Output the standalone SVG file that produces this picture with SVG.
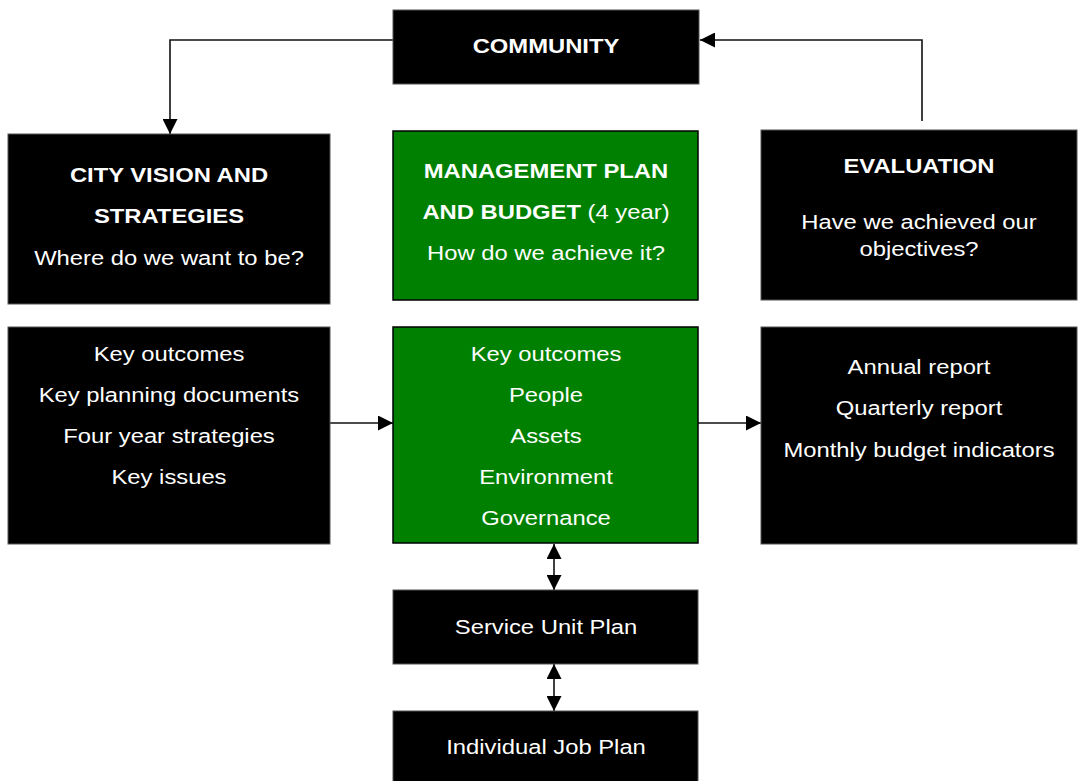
<svg xmlns="http://www.w3.org/2000/svg" width="1078" height="781" viewBox="0 0 1078 781">
  <style>
    .dark { fill: #000; stroke: #555; stroke-width: 1; }
    .green { fill: #008000; stroke: #000; stroke-width: 1.5; }
    text { font-family: "Liberation Sans", Arial, sans-serif; font-size: 20px; fill: #fff; text-anchor: middle; }
    .b { font-weight: bold; }
    .conn { fill: none; stroke: #111; stroke-width: 1.6; }
  </style>
  <defs>
    <marker id="arrow" viewBox="0 0 10 10" refX="10" refY="5" markerWidth="9" markerHeight="9" markerUnits="userSpaceOnUse" orient="auto-start-reverse">
      <path d="M0,0 L10,5 L0,10 z" fill="#000"/>
    </marker>
    <marker id="arrowL" viewBox="0 0 10 10" refX="10" refY="5" markerWidth="15" markerHeight="15" markerUnits="userSpaceOnUse" orient="auto-start-reverse">
      <path d="M0,0 L10,5 L0,10 z" fill="#000"/>
    </marker>
  </defs>

  <!-- connectors -->
  <g id="connectors">
    <path class="conn" d="M393,40 H170 V134" marker-end="url(#arrowL)"/>
    <path class="conn" d="M922,121 V40 H700" marker-end="url(#arrowL)"/>
    <path class="conn" d="M330,423 H393" marker-end="url(#arrowL)"/>
    <path class="conn" d="M698,423 H761" marker-end="url(#arrowL)"/>
    <path class="conn" d="M554,544 V590" marker-start="url(#arrowL)" marker-end="url(#arrowL)"/>
    <path class="conn" d="M554,664 V711" marker-start="url(#arrowL)" marker-end="url(#arrowL)"/>
  </g>

  <g id="community">
    <rect class="dark" x="393" y="10" width="306" height="74"/>
    <text class="b" transform="translate(546,53) scale(1.19,1)">COMMUNITY</text>
  </g>

  <g id="city-vision">
    <rect class="dark" x="8" y="134" width="322" height="170"/>
    <text class="b" transform="translate(169,182) scale(1.19,1)">CITY VISION AND</text>
    <text class="b" transform="translate(169,223) scale(1.19,1)">STRATEGIES</text>
    <text transform="translate(169,265) scale(1.19,1)">Where do we want to be?</text>
  </g>

  <g id="management-plan">
    <rect class="green" x="393" y="131" width="305" height="169"/>
    <text class="b" transform="translate(546,178) scale(1.19,1)">MANAGEMENT PLAN</text>
    <text transform="translate(546,219) scale(1.19,1)"><tspan class="b">AND BUDGET</tspan> (4 year)</text>
    <text transform="translate(546,260) scale(1.19,1)">How do we achieve it?</text>
  </g>

  <g id="evaluation">
    <rect class="dark" x="761" y="130" width="316" height="170"/>
    <text class="b" transform="translate(919,173) scale(1.19,1)">EVALUATION</text>
    <text transform="translate(919,229) scale(1.19,1)">Have we achieved our</text>
    <text transform="translate(919,256) scale(1.19,1)">objectives?</text>
  </g>

  <g id="vision-details">
    <rect class="dark" x="8" y="327" width="322" height="217"/>
    <text transform="translate(169,361) scale(1.19,1)">Key outcomes</text>
    <text transform="translate(169,402) scale(1.19,1)">Key planning documents</text>
    <text transform="translate(169,443) scale(1.19,1)">Four year strategies</text>
    <text transform="translate(169,484) scale(1.19,1)">Key issues</text>
  </g>

  <g id="plan-details">
    <rect class="green" x="393" y="327" width="305" height="216"/>
    <text transform="translate(546,361) scale(1.19,1)">Key outcomes</text>
    <text transform="translate(546,402) scale(1.19,1)">People</text>
    <text transform="translate(546,443) scale(1.19,1)">Assets</text>
    <text transform="translate(546,484) scale(1.19,1)">Environment</text>
    <text transform="translate(546,525) scale(1.19,1)">Governance</text>
  </g>

  <g id="reporting">
    <rect class="dark" x="761" y="327" width="316" height="217"/>
    <text transform="translate(919,374) scale(1.19,1)">Annual report</text>
    <text transform="translate(919,415) scale(1.19,1)">Quarterly report</text>
    <text transform="translate(919,457) scale(1.19,1)">Monthly budget indicators</text>
  </g>

  <g id="service-unit-plan">
    <rect class="dark" x="393" y="590" width="305" height="74"/>
    <text transform="translate(546,634) scale(1.19,1)">Service Unit Plan</text>
  </g>

  <g id="individual-job-plan">
    <rect class="dark" x="393" y="711" width="305" height="75"/>
    <text transform="translate(546,754) scale(1.19,1)">Individual Job Plan</text>
  </g>
</svg>
